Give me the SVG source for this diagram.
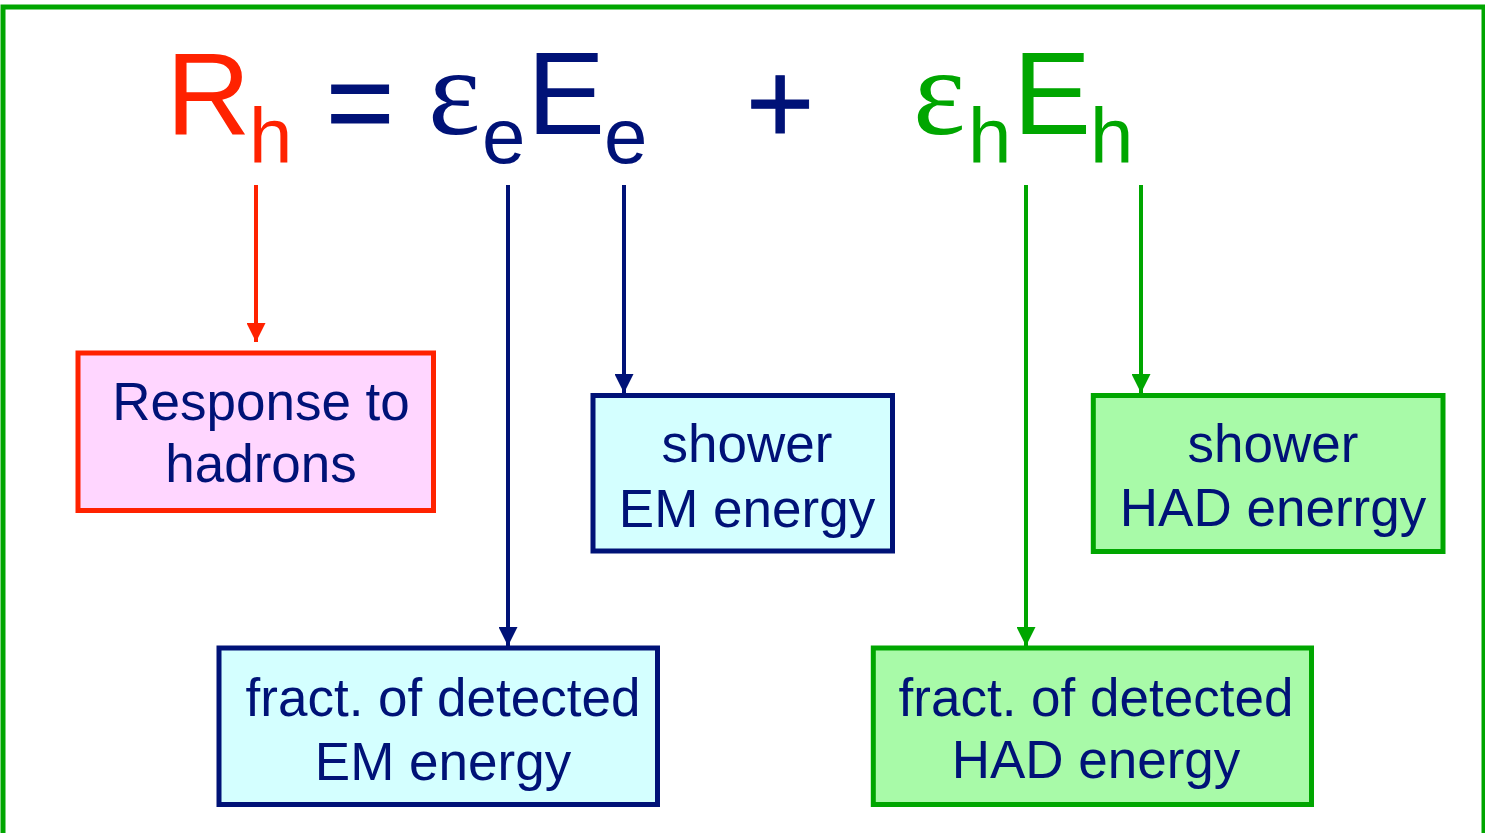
<svg xmlns="http://www.w3.org/2000/svg" width="1485" height="833" viewBox="0 0 1485 833">
<style>
.lbl{font-family:"Liberation Sans",Arial,Helvetica,sans-serif;font-size:53px;fill:#001277;text-anchor:middle}
.big{font-family:"Liberation Sans",Arial,Helvetica,sans-serif;font-size:117px}
.op{font-family:"Liberation Sans",Arial,Helvetica,sans-serif;font-size:117px;stroke:#001277;stroke-width:1}
.sub{font-family:"Liberation Sans",Arial,Helvetica,sans-serif;font-size:78px}
.eps{font-family:"Liberation Serif","Times New Roman",serif;font-size:125px}
.red{fill:#FF2200}
.navy{fill:#001277}
.grn{fill:#00A600}
.box{stroke-width:5}
.con{stroke-width:4;fill:none}
</style>
<defs>
<marker id="ahR" markerUnits="userSpaceOnUse" markerWidth="19" markerHeight="19" refX="19" refY="9.5" orient="auto"><path d="M0,0 L19,9.5 L0,19 z" fill="#FF2200"/></marker>
<marker id="ahB" markerUnits="userSpaceOnUse" markerWidth="19" markerHeight="19" refX="19" refY="9.5" orient="auto"><path d="M0,0 L19,9.5 L0,19 z" fill="#001277"/></marker>
<marker id="ahG" markerUnits="userSpaceOnUse" markerWidth="19" markerHeight="19" refX="19" refY="9.5" orient="auto"><path d="M0,0 L19,9.5 L0,19 z" fill="#00A600"/></marker>
</defs>
<rect x="0" y="0" width="1485" height="833" fill="#ffffff"/>
<rect x="3" y="7" width="1481" height="900" fill="none" stroke="#00A600" stroke-width="5"/>

<g id="equation">
<text class="big red" x="166" y="134">R</text>
<text class="sub red" x="249" y="163">h</text>
<text class="op navy" x="326" y="143">=</text>
<text class="eps navy" x="428" y="134">ε</text>
<text class="sub navy" x="482" y="163">e</text>
<text class="big navy" x="527" y="134">E</text>
<text class="sub navy" x="604" y="163">e</text>
<text class="op navy" x="746" y="143">+</text>
<text class="eps grn" x="913" y="134">ε</text>
<text class="sub grn" x="968" y="163">h</text>
<text class="big grn" x="1013" y="134">E</text>
<text class="sub grn" x="1090" y="163">h</text>
</g>

<g id="connectors">
<line class="con" x1="256" y1="185" x2="256" y2="342" stroke="#FF2200" marker-end="url(#ahR)"/>
<line class="con" x1="508" y1="185" x2="508" y2="646" stroke="#001277" marker-end="url(#ahB)"/>
<line class="con" x1="624" y1="185" x2="624" y2="393" stroke="#001277" marker-end="url(#ahB)"/>
<line class="con" x1="1026" y1="185" x2="1026" y2="646" stroke="#00A600" marker-end="url(#ahG)"/>
<line class="con" x1="1141" y1="185" x2="1141" y2="393" stroke="#00A600" marker-end="url(#ahG)"/>
</g>

<g id="response">
<rect class="box" x="78" y="353" width="355.5" height="157.5" fill="#FFD6FF" stroke="#FF2200"/>
<text class="lbl" x="261" y="420">Response to</text>
<text class="lbl" x="261" y="482">hadrons</text>
</g>

<g id="showerEM">
<rect class="box" x="593" y="395.5" width="299.5" height="155.5" fill="#D4FFFF" stroke="#001277"/>
<text class="lbl" x="747" y="462">shower</text>
<text class="lbl" x="747" y="527">EM energy</text>
</g>

<g id="showerHAD">
<rect class="box" x="1093.3" y="395.5" width="349.7" height="156" fill="#A8FAA8" stroke="#00A600"/>
<text class="lbl" x="1273" y="462">shower</text>
<text class="lbl" x="1273" y="526">HAD enerrgy</text>
</g>

<g id="fractEM">
<rect class="box" x="219" y="648" width="438.5" height="156.5" fill="#D4FFFF" stroke="#001277"/>
<text class="lbl" x="443" y="716">fract. of detected</text>
<text class="lbl" x="443" y="780">EM energy</text>
</g>

<g id="fractHAD">
<rect class="box" x="873.3" y="648" width="438.2" height="156.5" fill="#A8FAA8" stroke="#00A600"/>
<text class="lbl" x="1096" y="716">fract. of detected</text>
<text class="lbl" x="1096" y="778">HAD energy</text>
</g>
</svg>
